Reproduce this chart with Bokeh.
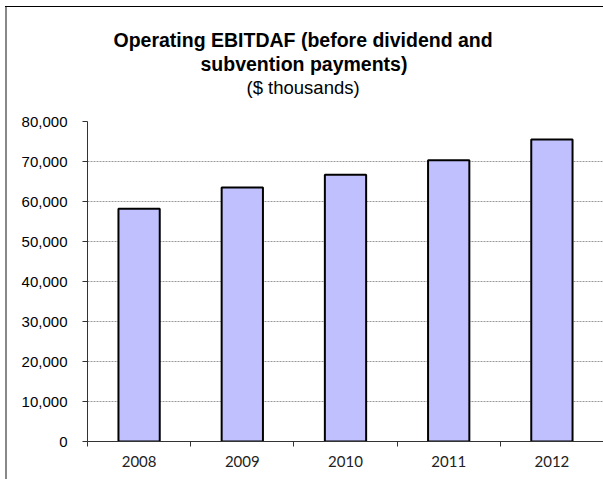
from bokeh.plotting import figure
from bokeh.models import Range1d, FixedTicker, NumeralTickFormatter, Title
from bokeh.embed import file_html
from bokeh.resources import INLINE

# ---- data ----
years = ["2008", "2009", "2010", "2011", "2012"]
ebitdaf = [58200, 63500, 66700, 70300, 75500]
y_ticks = [0, 10000, 20000, 30000, 40000, 50000, 60000, 70000, 80000]
title_lines = ["Operating EBITDAF (before dividend and", "subvention payments)", "($ thousands)"]

xs = [i + 0.5 for i in range(len(years))]
bounds = list(range(len(years) + 1))

W, H = 603, 479
p = figure(width=W, height=H, output_backend="svg", toolbar_location=None,
           title_location=None,
           x_range=Range1d(0, len(years)), y_range=Range1d(0, y_ticks[-1]),
           min_border_left=87, min_border_right=0, min_border_top=121, min_border_bottom=38)
p.outline_line_color = None
p.background_fill_color = "white"
p.border_fill_color = None
p.styles = {
    "background": "linear-gradient(#000,#000) 5px 6px / 600px 1px no-repeat, "
                  "linear-gradient(#888,#888) 5px 6px / 2px 480px no-repeat, #ffffff"
}

p.vbar(x=xs, top=ebitdaf, width=0.4, fill_color="#C0C0FF", line_color="black", line_width=2)

# x axis
xa = p.xaxis[0]
xa.ticker = FixedTicker(ticks=xs, minor_ticks=bounds)
xa.major_label_overrides = {x: y for x, y in zip(xs, years)}
xa.major_tick_out = 0
xa.major_tick_in = 0
xa.minor_tick_out = 5
xa.minor_tick_in = 0
xa.minor_tick_line_color = "#333333"
xa.axis_line_color = "#333333"
xa.major_label_text_font = "Lato"
xa.major_label_text_font_size = "15px"
xa.major_label_text_color = "#222222"
xa.major_label_standoff = 9

# y axis
ya = p.yaxis[0]
ya.ticker = FixedTicker(ticks=y_ticks)
ya.formatter = NumeralTickFormatter(format="0,0")
ya.major_tick_out = 5
ya.major_tick_in = 0
ya.minor_tick_line_color = None
ya.axis_line_color = "#333333"
ya.major_tick_line_color = "#333333"
ya.major_label_text_font = "Liberation Sans"
ya.major_label_text_font_size = "15px"
ya.major_label_text_color = "black"
ya.major_label_standoff = 15

p.xgrid.grid_line_color = None
p.ygrid.grid_line_color = "#999999"
p.ygrid.grid_line_dash = "2 1"

# blank spacer between the plot area and the title block
p.add_layout(Title(text=" ", standoff=0, text_font="Liberation Sans",
                   text_font_size="20px", text_line_height=0.95), "above")

# title: three lines, added from the bottom line upward
for txt, bold, size, off, lh in [(title_lines[2], False, "18.5px", 159, 0.95),
                                 (title_lines[1], True, "19.5px", 113, 0.85),
                                 (title_lines[0], True, "19.5px", 26, 0.85)]:
    p.add_layout(Title(text=txt, align="left", offset=off, standoff=0,
                       text_line_height=lh,
                       text_font="Liberation Sans", text_font_size=size,
                       text_font_style="bold" if bold else "normal",
                       text_color="black"), "above")

open("out.html", "w").write(file_html(p, INLINE))
